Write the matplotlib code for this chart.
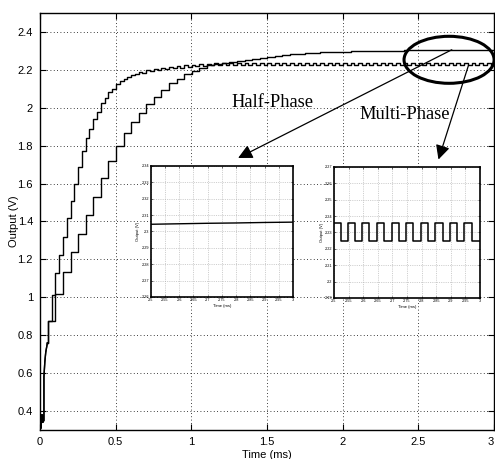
import numpy as np
import matplotlib
matplotlib.use('Agg')
import matplotlib.pyplot as plt
from matplotlib.patches import Ellipse
from matplotlib.ticker import FuncFormatter

plt.rcParams['font.family'] = ['Liberation Sans', 'DejaVu Sans']

# start-up transient shared by both converters (ms, V)
start_t = [0.0, 0.008, 0.010, 0.016, 0.018, 0.026, 0.026, 0.032, 0.038, 0.049]
start_v = [0.31, 0.31, 0.38, 0.38, 0.34, 0.35, 0.58, 0.66, 0.71, 0.76]

# staircase levels after the start-up, first step at 0.052 ms
step_t0 = 0.052
t_end = 3.0

# multi-phase: one step every 0.025 ms, ends in a ripple
multi_dt = 0.025
multi_v = [0.875, 1.012, 1.130, 1.222, 1.320, 1.416, 1.508, 1.600,
           1.690, 1.770, 1.838, 1.889, 1.942, 1.979, 2.023, 2.052,
           2.081, 2.099, 2.124, 2.140, 2.152, 2.163, 2.172, 2.180,
           2.190, 2.185, 2.198, 2.192, 2.205, 2.198, 2.211, 2.203,
           2.216, 2.208, 2.220, 2.212, 2.224, 2.216, 2.228, 2.219,
           2.231, 2.221, 2.233, 2.223, 2.235, 2.224,
           2.236, 2.225, 2.236, 2.225, 2.236, 2.225, 2.236, 2.225,
           2.236, 2.225, 2.236, 2.225, 2.236, 2.225, 2.236, 2.225,
           2.236, 2.225, 2.236, 2.225, 2.236, 2.225, 2.236, 2.225,
           2.236, 2.225, 2.236, 2.225, 2.236, 2.225, 2.236, 2.225,
           2.236, 2.225, 2.236, 2.225, 2.236, 2.225, 2.236, 2.225,
           2.236, 2.225, 2.236, 2.225, 2.236, 2.225, 2.236, 2.225,
           2.236, 2.225, 2.236, 2.225, 2.236, 2.225, 2.236, 2.225,
           2.236, 2.225, 2.236, 2.225, 2.236, 2.225, 2.236, 2.225,
           2.236, 2.225, 2.236, 2.225, 2.236, 2.225, 2.236, 2.225]

# half-phase: one step every 0.05 ms, settles smoothly
half_dt = 0.05
half_v = [0.875, 1.015, 1.135, 1.239, 1.336, 1.434, 1.531, 1.629,
          1.717, 1.797, 1.868, 1.927, 1.975, 2.022, 2.058, 2.094,
          2.129, 2.152, 2.179, 2.196, 2.212, 2.223, 2.231, 2.238,
          2.244, 2.249, 2.253, 2.256, 2.262, 2.268, 2.274, 2.279,
          2.283, 2.286, 2.288, 2.290, 2.292, 2.294, 2.295, 2.296,
          2.297, 2.298, 2.299, 2.300, 2.301, 2.302, 2.302, 2.303,
          2.303, 2.304, 2.304, 2.305, 2.305, 2.305, 2.305, 2.305,
          2.306, 2.306, 2.306]

# zoomed views 2.5 - 3 ms
half_zoom_t = [2.5, 2.6, 2.7, 2.8, 2.9, 3.0]
half_zoom_v = [2.3044, 2.3047, 2.3050, 2.3052, 2.3055, 2.3057]

multi_zoom_t = [2.5, 2.523, 2.547, 2.572, 2.597, 2.621, 2.646, 2.671,
                2.697, 2.722, 2.747, 2.772, 2.797, 2.822, 2.847, 2.872,
                2.897, 2.922, 2.946, 2.972, 3.0]
multi_zoom_v = [2.2355, 2.2245, 2.2355, 2.2245, 2.2355, 2.2245, 2.2355,
                2.2245, 2.2355, 2.2245, 2.2355, 2.2245, 2.2355, 2.2245,
                2.2355, 2.2245, 2.2355, 2.2245, 2.2355, 2.2245, 2.2245]


def staircase(levels, dt):
    t = np.concatenate(([start_t[-1]], step_t0 + dt * np.arange(len(levels)), [t_end]))
    v = np.concatenate(([start_v[-1]], levels, [levels[-1]]))
    return t, v


fmt = FuncFormatter(lambda x, pos: '%g' % x)

fig = plt.figure(figsize=(4.95, 4.59), dpi=100)
ax = fig.add_axes([0.0808, 0.0632, 0.9172, 0.9085])

# both curves
for levels, dt in [(multi_v, multi_dt), (half_v, half_dt)]:
    ax.plot(start_t, start_v, color='k', lw=1.0)
    t, v = staircase(levels, dt)
    ax.step(t, v, where='post', color='k', lw=1.0)

ax.set_xlim(0, 3)
ax.set_ylim(0.3, 2.5)
ax.set_xticks(np.arange(0, 3.01, 0.5))
ax.set_yticks(np.arange(0.4, 2.41, 0.2))
ax.xaxis.set_major_formatter(fmt)
ax.yaxis.set_major_formatter(fmt)
ax.grid(True, color='k', linestyle=(0, (1, 3)), lw=0.6)
ax.tick_params(direction='in', top=True, right=True, length=4, width=0.8,
               labelsize=8, pad=5)
for s in ax.spines.values():
    s.set_linewidth(1.0)
ax.set_xlabel('Time (ms)', fontsize=8, labelpad=2)
ax.set_ylabel('Output (V)', fontsize=8)
ax.yaxis.set_label_coords(-0.047, 0.5)

# last x label sits at the figure edge, keep it inside
fig.canvas.draw()
ax.get_xticklabels()[-1].set_ha('right')

# ellipse round the steady state, arrows and captions
ax.add_patch(Ellipse((2.703, 2.253), 0.595, 0.248, fill=False, ec='k',
                     lw=2.2, clip_on=False, zorder=5))
head = '-|>,head_length=0.86,head_width=0.43'
ax.annotate('', xy=(1.309, 1.735), xytext=(2.721, 2.306),
            arrowprops=dict(arrowstyle=head, mutation_scale=10, color='k',
                            lw=0.9, shrinkA=0, shrinkB=0))
ax.annotate('', xy=(2.633, 1.727), xytext=(2.831, 2.223),
            arrowprops=dict(arrowstyle=head, mutation_scale=10, color='k',
                            lw=0.9, shrinkA=0, shrinkB=0))
ax.text(1.536, 2.028, 'Half-Phase', fontsize=13.3, family='Liberation Serif',
        ha='center', va='center')
ax.text(2.411, 1.966, 'Multi-Phase', fontsize=13.3, family='Liberation Serif',
        ha='center', va='center')

# insets
insets = [
    ([0.3044, 0.353, 0.2875, 0.2854], half_zoom_t, half_zoom_v, (2.26, 2.34), 'line'),
    ([0.6747, 0.3508, 0.295, 0.2854], multi_zoom_t, multi_zoom_v, (2.19, 2.27), 'step'),
]
for pos, zt, zv, ylim, kind in insets:
    ins = fig.add_axes(pos)
    if kind == 'step':
        ins.step(zt, zv, where='post', color='k', lw=1.1)
    else:
        ins.plot(zt, zv, color='k', lw=1.0)
    ins.set_xlim(2.5, 3.0)
    ins.set_ylim(*ylim)
    ins.set_xticks(np.arange(2.5, 3.001, 0.05))
    ins.set_yticks(np.arange(ylim[0], ylim[1] + 0.001, 0.01))
    ins.xaxis.set_major_formatter(fmt)
    ins.yaxis.set_major_formatter(fmt)
    ins.grid(True, color='#aaaaaa', linestyle=(0, (2, 2)), lw=0.4)
    ins.tick_params(direction='in', top=True, right=True, length=1.5,
                    width=0.4, labelsize=2.8, pad=1)
    for s in ins.spines.values():
        s.set_linewidth(1.2)
    ins.set_xlabel('Time (ms)', fontsize=3, labelpad=1)
    ins.set_ylabel('Output (V)', fontsize=3, labelpad=1)

fig.savefig('out.png', dpi=100)
